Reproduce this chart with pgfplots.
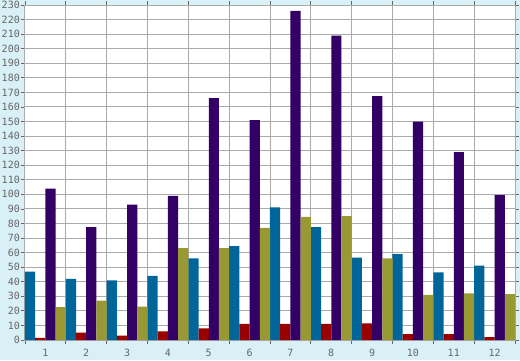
\documentclass[border=0pt]{standalone}
\usepackage{pgfplots}
\pgfplotsset{compat=1.18}
\usepackage{fontspec}
\setmonofont{DejaVu Sans Mono}
\definecolor{bgc}{HTML}{D9F0F7}
\definecolor{gridc}{HTML}{AAAAAA}
\definecolor{txtc}{HTML}{666666}
\definecolor{sblue}{HTML}{006699}
\definecolor{sred}{HTML}{990000}
\definecolor{spurple}{HTML}{330066}
\definecolor{solive}{HTML}{999933}
\begin{document}
\begin{tikzpicture}[x=1pt,y=1pt]
\fill[bgc] (0,0) rectangle (520,360);
\begin{axis}[
  at={(25pt,20pt)}, anchor=south west,
  width=490pt, height=335pt, scale only axis,
  axis background/.style={fill=white},
  xmin=0.5, xmax=12.5, ymin=0, ymax=230,
  ybar=0pt, bar width=10.21pt,
  ytick={0,10,...,230},
  xtick={0.5,1.5,...,12.5}, xticklabels={},
  extra x ticks={1,2,...,12},
  extra x tick labels={1,2,3,4,5,6,7,8,9,10,11,12},
  extra x tick style={grid=none, tick style={draw=none}},
  xmajorgrids, ymajorgrids,
  grid style={draw=gridc, line width=1pt},
  axis line style={draw=gridc, line width=1pt},
  tick align=outside, major tick length=4pt,
  tick style={draw=txtc, line width=0.8pt},
  tick label style={font=\ttfamily\fontsize{10}{11}\selectfont, text=txtc},
  yticklabel style={inner sep=1pt},
  xticklabel style={inner sep=1pt, yshift=-4pt},
  /pgf/number format/assume math mode=true,
]
\addplot[fill=sblue, draw=none] coordinates {(1,47) (2,42) (3,41) (4,44) (5,56) (6,64.5) (7,91) (8,77.5) (9,56.5) (10,59) (11,46.5) (12,51)};
\addplot[fill=sred, draw=none] coordinates {(1,1.5) (2,5) (3,3) (4,6) (5,8) (6,11) (7,11) (8,11) (9,11.5) (10,4) (11,4) (12,2)};
\addplot[fill=spurple, draw=none] coordinates {(1,104) (2,77.5) (3,93) (4,99) (5,166) (6,151) (7,226) (8,209) (9,167.5) (10,150) (11,129) (12,99.5)};
\addplot[fill=solive, draw=none] coordinates {(1,22.5) (2,27) (3,23) (4,63) (5,63) (6,77) (7,84.5) (8,85) (9,56) (10,31) (11,32) (12,31.5)};
\end{axis}
\end{tikzpicture}
\end{document}
